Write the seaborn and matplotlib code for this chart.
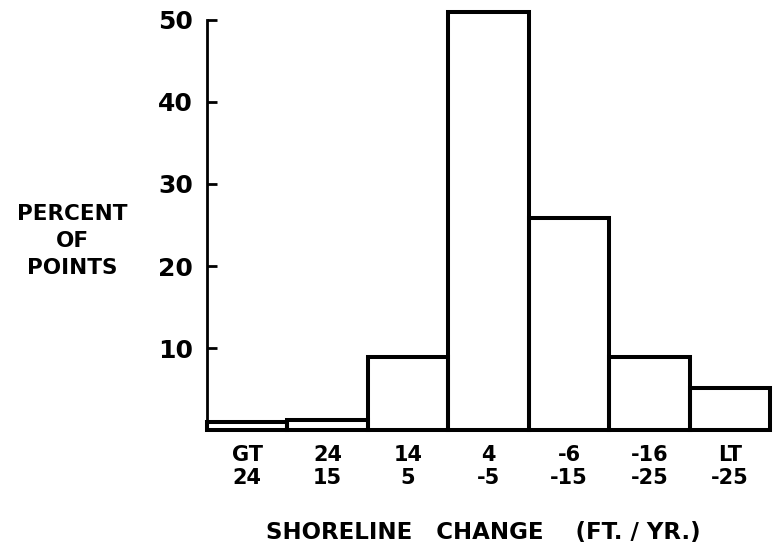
import pandas as pd
import matplotlib
matplotlib.use("Agg")
import matplotlib.pyplot as plt
import seaborn as sns

# Datos (porcentaje de puntos por clase de cambio de costa)
clases = ["GT\n24", "24\n15", "14\n5", "4\n-5", "-6\n-15", "-16\n-25", "LT\n-25"]
porcentaje = [1.0, 1.2, 8.9, 50.9, 25.8, 8.9, 5.2]

df = pd.DataFrame({"clase": clases, "porcentaje": porcentaje})

sns.set_style("white")
plt.rcParams["font.family"] = ["DejaVu Sans"]
plt.rcParams["font.weight"] = "bold"
plt.rcParams["text.color"] = "black"

fig = plt.figure(figsize=(7.75, 5.58), dpi=100)
ax = fig.add_axes([0.267, 0.229, 0.727, 0.765])

sns.barplot(data=df, x="clase", y="porcentaje", width=1.0, fill=False,
            color="black", linewidth=2.9, ax=ax)
for p in ax.patches:
    p.set_edgecolor("black")
    p.set_clip_on(False)

ax.set_xlim(-0.5, 6.5)
ax.set_ylim(0, 52)
ax.set_xlabel("")
ax.set_ylabel("")

# ejes: solo izquierda y abajo
sns.despine(ax=ax)
ax.spines["left"].set_bounds(0, 50)
for lado in ["left", "bottom"]:
    ax.spines[lado].set_linewidth(2.0)
    ax.spines[lado].set_color("black")

ax.set_yticks([10, 20, 30, 40, 50])
ax.tick_params(axis="y", direction="in", length=7, width=2.0, pad=10,
               labelsize=18, colors="black", left=True)
ax.set_xticks(range(len(clases)))
ax.set_xticklabels(clases, fontsize=15, fontweight="bold", linespacing=1.15)
ax.tick_params(axis="x", length=0, pad=11, colors="black")
ax.set_xticks([i - 0.5 for i in range(len(clases) + 1)], minor=True)
ax.tick_params(axis="x", which="minor", direction="in", length=4, width=1.2,
               bottom=True)

fig.text(72 / 775, 1 - 241 / 558, "PERCENT\nOF\nPOINTS", ha="center",
         va="center", fontsize=15.5, fontweight="bold", linespacing=1.42)
fig.text(483 / 775, 1 - 532 / 558, "SHORELINE   CHANGE    (FT. / YR.)",
         ha="center", va="center", fontsize=16.5, fontweight="bold")

fig.savefig("out.png", dpi=100)
